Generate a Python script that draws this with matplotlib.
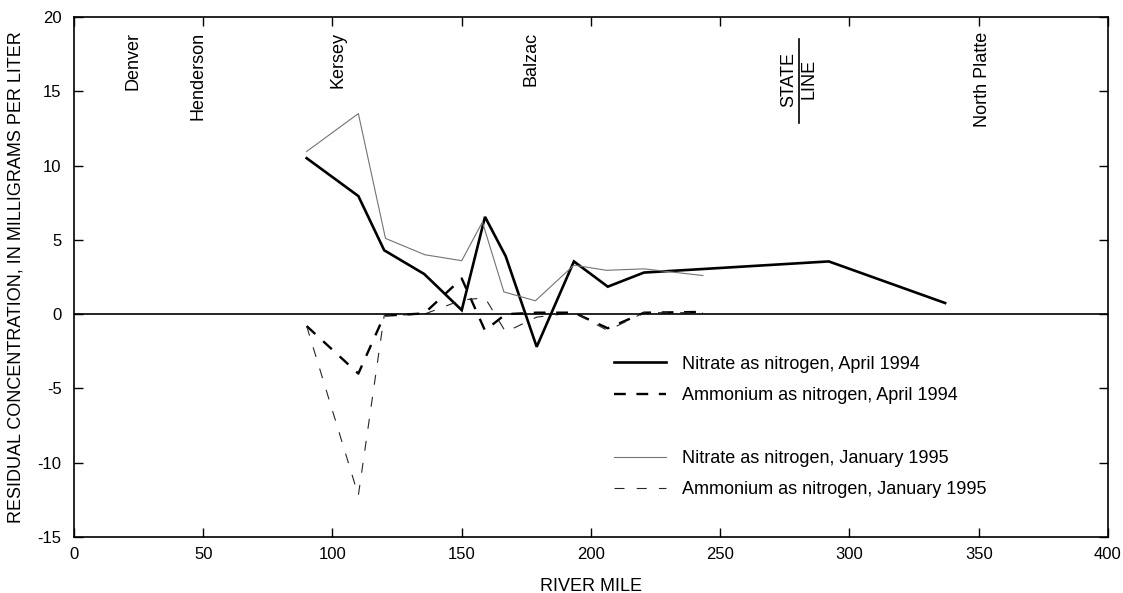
import matplotlib.pyplot as plt
from matplotlib.lines import Line2D

plt.rcParams['font.family'] = ['Liberation Sans', 'DejaVu Sans']
plt.rcParams['axes.unicode_minus'] = False

# nitrate, April 1994 (thick solid)
apr_mile = [90, 110, 120, 135.5, 150, 159, 167, 179, 193.4, 206.5, 220.5, 292, 337]
apr_nitrate = [10.5, 7.95, 4.3, 2.7, 0.27, 6.55, 3.9, -2.2, 3.55, 1.85, 2.8, 3.55, 0.75]

# ammonium, April 1994 (thick dashed) and January 1995 (thin dashed)
nh4_mile = [90, 110, 120, 135.5, 150, 159, 167, 179, 193.4, 206.5, 220.5, 243.3]
apr_ammonium = [-0.8, -4.0, -0.1, 0.05, 2.4, -1.1, 0.0, 0.1, 0.1, -0.95, 0.1, 0.15]
jan_ammonium = [-0.8, -12.2, -0.1, 0.0, 0.95, 1.1, -1.2, -0.2, 0.1, -1.1, 0.1, 0.1]

# nitrate, January 1995 (thin grey)
jan_mile = [90, 110, 120.5, 135.7, 150, 158, 166.3, 178.5, 193.4, 206, 220.5, 243.3]
jan_nitrate = [10.95, 13.5, 5.1, 4.0, 3.6, 6.2, 1.5, 0.9, 3.3, 2.95, 3.05, 2.6]

places = ['Denver', 'Henderson', 'Kersey', 'Balzac', 'North Platte']
place_mile = [22.8, 47.9, 102, 176.7, 351.4]
state_line_mile = 280.3

fig = plt.figure(figsize=(11.23, 5.93), dpi=100)
ax = fig.add_axes([0.0659, 0.0944, 0.9207, 0.8769])

ax.plot(apr_mile, apr_nitrate, color='black', lw=1.9, solid_joinstyle='miter')
ax.plot(nh4_mile, apr_ammonium, color='black', lw=1.7, ls=(0, (5, 4.5)))
ax.plot(jan_mile, jan_nitrate, color='0.45', lw=0.8)
ax.plot(nh4_mile, jan_ammonium, color='0.15', lw=0.8, ls=(0, (9, 11)))
ax.axhline(0, color='black', lw=1.2)

ax.set_xlim(0, 400)
ax.set_ylim(-15, 20)
ax.set_xticks(range(0, 401, 50))
ax.set_yticks(range(-15, 21, 5))
ax.tick_params(direction='in', length=6.5, width=1, top=True, right=True,
               labelsize=12)
ax.tick_params(axis='x', pad=7)
ax.tick_params(axis='y', pad=9)
for s in ax.spines.values():
    s.set_linewidth(1.2)

ax.set_xlabel('RIVER MILE', fontsize=13)
ax.set_ylabel('RESIDUAL CONCENTRATION, IN MILLIGRAMS PER LITER', fontsize=13)
ax.xaxis.set_label_coords(0.5, -0.078)
ax.yaxis.set_label_coords(-0.048, 0.5)

# place names along the top
for name, m in zip(places, place_mile):
    ax.text(m, 19.0, name, rotation=90, ha='center', va='top', fontsize=13)
ax.plot([state_line_mile, state_line_mile], [12.85, 18.5], color='black', lw=1.2)
ax.text(state_line_mile - 4, 15.8, 'STATE', rotation=90, ha='center', va='center', fontsize=13)
ax.text(state_line_mile + 4.2, 15.8, 'LINE', rotation=90, ha='center', va='center', fontsize=13)

handles = [
    Line2D([], [], color='black', lw=1.9),
    Line2D([], [], color='black', lw=1.7, ls=(0, (5, 4.5))),
    Line2D([], [], ls='none'),
    Line2D([], [], color='0.45', lw=0.8),
    Line2D([], [], color='0.15', lw=0.8, ls=(0, (9, 11))),
]
labels = ['Nitrate as nitrogen, April 1994', 'Ammonium as nitrogen, April 1994', '',
          'Nitrate as nitrogen, January 1995', 'Ammonium as nitrogen, January 1995']
ax.legend(handles, labels, loc='upper left', bbox_to_anchor=(0.522, 0.349),
          frameon=False, fontsize=13, handlelength=2.9, handletextpad=0.9,
          labelspacing=0.8, borderpad=0, borderaxespad=0)

fig.savefig('out.png', dpi=100)
